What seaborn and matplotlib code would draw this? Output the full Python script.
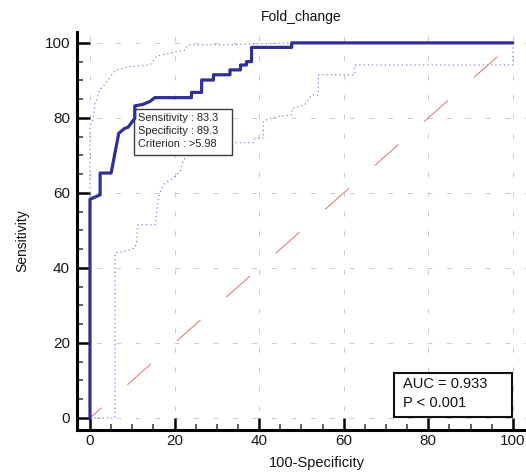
import numpy as np
import pandas as pd
import matplotlib
matplotlib.use("Agg")
import matplotlib.pyplot as plt
import seaborn as sns
from matplotlib.patches import Rectangle
from matplotlib.ticker import MultipleLocator

# ---------------- data ----------------
title = "Fold_change"
x_label = "100-Specificity"
y_label = "Sensitivity"
x_ticks = [0, 20, 40, 60, 80, 100]
y_ticks = [0, 20, 40, 60, 80, 100]

roc_fpr = [0, 0, 2.4, 2.4, 5.0, 6.8, 8.2, 9.0, 10.6, 10.6, 12.5, 14.2, 15.3,
           24.0, 24.0, 26.4, 26.4, 29.2, 29.2, 33.1, 33.1, 35.6, 35.6, 37.0,
           37.0, 38.2, 38.2, 47.7, 47.7, 100]
roc_sens = [0, 58.3, 59.5, 65.3, 65.3, 75.9, 77.2, 77.5, 79.9, 83.2, 83.6, 84.4, 85.4,
            85.4, 86.8, 86.8, 90.1, 90.1, 91.5, 91.5, 92.8, 92.8, 94.1, 94.1,
            95.0, 95.0, 98.8, 98.8, 100, 100]

ci_upper_fpr = [0, 0, 0.7, 1.1, 1.6, 2.2, 3.0, 5.9, 9.5, 14.2, 15.8, 20.5, 22.5,
                23.2, 33.5, 37.8, 47.7, 100]
ci_upper_sens = [0, 78.0, 79.5, 83.5, 84.8, 87.5, 88.2, 92.6, 93.7, 94.1, 96.5, 97.7,
                 98.1, 99.5, 99.5, 99.7, 100, 100]

ci_lower_fpr = [0, 5.9, 5.9, 7.8, 10.6, 11.0, 11.3, 15.4, 16.2, 17.0, 17.7, 19.3,
                20.1, 21.3, 22.1, 24.0, 30.0, 34.3, 38.6, 39.0, 41.0, 41.0, 43.7,
                47.7, 47.7, 50.8, 52.4, 54.0, 54.0, 62.6, 62.6, 100, 100]
ci_lower_sens = [0, 0, 44.0, 44.3, 45.3, 46.8, 51.5, 51.5, 59.0, 61.3, 62.6, 63.7,
                 64.4, 65.7, 68.8, 71.0, 72.5, 73.4, 73.4, 74.6, 74.6, 79.2, 80.2,
                 80.8, 82.5, 83.5, 86.1, 86.1, 91.5, 91.5, 94.1, 94.1, 100]

ref_x = [0, 100]
ref_y = [0, 100]

criterion_lines = ["Sensitivity : 83.3", "Specificity : 89.3", "Criterion : >5.98"]
auc_lines = ["AUC = 0.933", "P < 0.001"]

# ---------------- plot ----------------
sns.set_theme(style="white")
plt.rcParams["font.family"] = ["Liberation Sans", "DejaVu Sans"]

W, H = 526, 475
fig = plt.figure(figsize=(W / 100, H / 100), dpi=100)
ax = fig.add_axes([77 / W, 45 / H, 449 / W, 398 / H])

grid_kw = dict(color="#c9c9d2", lw=0.7, linestyle=(0, (5, 15)), zorder=0)
for v in x_ticks:
    ax.axvline(v, **grid_kw)
for v in y_ticks:
    ax.axhline(v, **grid_kw)

ci_color = "#8085dc"
sns.lineplot(x=ci_upper_fpr, y=ci_upper_sens, sort=False, estimator=None, ax=ax,
             color=ci_color, lw=0.9, linestyle=(0, (1, 2.4)), zorder=2)
sns.lineplot(x=ci_lower_fpr, y=ci_lower_sens, sort=False, estimator=None, ax=ax,
             color=ci_color, lw=0.9, linestyle=(0, (1, 2.4)), zorder=2)
sns.lineplot(x=ref_x, y=ref_y, sort=False, estimator=None, ax=ax,
             color="#e58080", lw=0.8, linestyle=(14.5, (28.5, 31)), zorder=2)
sns.lineplot(x=roc_fpr, y=roc_sens, sort=False, estimator=None, ax=ax,
             color="#2e3192", lw=2.3, zorder=5)

ax.set_xlim(-3.07, 103.1)
ax.set_ylim(-3.2, 102.9)
ax.set_xticks(x_ticks)
ax.set_yticks(y_ticks)
ax.xaxis.set_minor_locator(MultipleLocator(5))
ax.yaxis.set_minor_locator(MultipleLocator(5))
ax.tick_params(which="major", direction="in", length=9, width=1.8, color="black",
               labelsize=11, labelcolor="#1a1a1a")
ax.tick_params(which="minor", direction="in", length=4.3, width=1.1, color="#333333")
ax.tick_params(axis="y", which="major", pad=5)
ax.tick_params(axis="x", which="major", pad=3)
ax.tick_params(which="both", left=True, bottom=True, top=False, right=False)

for s in ["top", "right"]:
    ax.spines[s].set_visible(False)
for s in ["left", "bottom"]:
    ax.spines[s].set_linewidth(2.2)
    ax.spines[s].set_color("black")

ax.set_title(title, fontsize=10, pad=8, color="#111111")
ax.set_xlabel(x_label, fontsize=10.5, color="#111111")
ax.set_ylabel(y_label, fontsize=10, color="#111111")
ax.xaxis.set_label_coords(0.534, -0.083)
ax.yaxis.set_label_coords(-0.1225, 0.477)
ax.xaxis.label.set_va("center")
ax.yaxis.label.set_va("center")

# criterion box
ax.add_patch(Rectangle((10.5, 70.1), 23.1, 12.3, fc="white", ec="#3a3a3a",
                       lw=1.0, zorder=4))
for txt, yy in zip(criterion_lines, [80.0, 76.5, 73.1]):
    ax.text(11.4, yy, txt, fontsize=7.9, va="center", ha="left", color="#222222",
            zorder=6)

# AUC box
ax.add_patch(Rectangle((71.9, 0.35), 27.9, 11.55, fc="white", ec="#111111",
                       lw=1.5, zorder=4))
for txt, yy in zip(auc_lines, [9.0, 3.9]):
    ax.text(73.9, yy, txt, fontsize=10.5, va="center", ha="left", color="#111111",
            zorder=6)

fig.savefig("out.png", dpi=100)
